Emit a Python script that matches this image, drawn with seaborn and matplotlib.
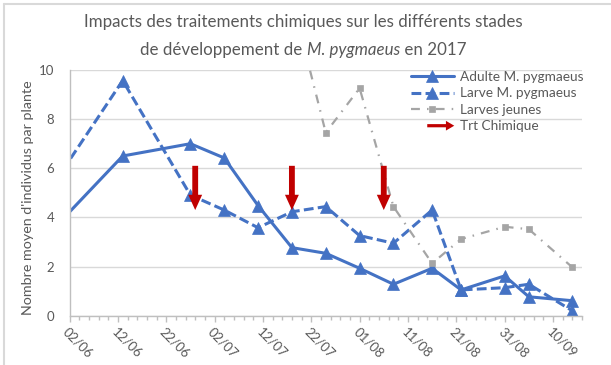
import matplotlib
matplotlib.use("Agg")
import matplotlib.pyplot as plt
import matplotlib.dates as mdates
from matplotlib.ticker import FixedLocator
from matplotlib.lines import Line2D
from matplotlib.patches import FancyArrow
from matplotlib.legend_handler import HandlerPatch
import pandas as pd
import seaborn as sns

# --- data -------------------------------------------------------------
dates = ['2017-05-30', '2017-06-13', '2017-06-27', '2017-07-04', '2017-07-11',
         '2017-07-18', '2017-07-25', '2017-08-01', '2017-08-08', '2017-08-16',
         '2017-08-22', '2017-08-31', '2017-09-05', '2017-09-14']
adulte = [3.6, 6.5, 7.0, 6.42, 4.48, 2.77, 2.54, 1.93, 1.28, 1.93, 1.05, 1.62, 0.77, 0.61]
larve = [5.45, 9.57, 4.91, 4.30, 3.58, 4.23, 4.44, 3.26, 2.95, 4.30, 1.05, 1.14, 1.28, 0.20]

jeunes_dates = ['2017-07-18', '2017-07-25', '2017-08-01', '2017-08-08', '2017-08-16',
                '2017-08-22', '2017-08-31', '2017-09-05', '2017-09-14']
jeunes = [12.9, 7.45, 9.26, 4.44, 2.13, 3.12, 3.62, 3.52, 1.97]

# chemical treatment dates (arrow from trt_top down to trt_tip)
trt_dates = ['2017-06-28', '2017-07-18', '2017-08-06']
trt_top = 6.1
trt_tip = 4.3

x_start, x_end = '2017-06-02', '2017-09-16'
major_ticks = pd.date_range('2017-06-02', '2017-09-10', freq='10D')
minor_ticks = pd.date_range(x_start, x_end, freq='2D')
y_ticks = [0, 2, 4, 6, 8, 10]

labels = ['Adulte M. pygmaeus', 'Larve M. pygmaeus', 'Larves jeunes', 'Trt Chimique']

BLUE = '#4472C4'
GREY = '#A5A5A5'
RED = '#C00000'
TXT = '#595959'

# --- figure -----------------------------------------------------------
sns.set_theme(style="white")
plt.rcParams['font.family'] = ['Lato', 'DejaVu Sans']

W, H = 611, 365
fig = plt.figure(figsize=(W / 100, H / 100), dpi=100)
ax = fig.add_axes([69.5 / W, 1 - 315.7 / H, (582 - 69.5) / W, (315.7 - 70) / H])

df = pd.DataFrame({'date': pd.to_datetime(dates), 'adulte': adulte, 'larve': larve})
dj = pd.DataFrame({'date': pd.to_datetime(jeunes_dates), 'jeunes': jeunes})

sns.lineplot(data=df, x='date', y='adulte', ax=ax, color=BLUE, lw=2.2,
             marker='^', ms=8.5, mec=BLUE, mew=0.5, label=labels[0])
sns.lineplot(data=df, x='date', y='larve', ax=ax, color=BLUE, lw=2.2,
             linestyle=(0, (3.2, 1.4)), marker='^', ms=8.5, mec=BLUE, mew=0.5,
             label=labels[1])
sns.lineplot(data=dj, x='date', y='jeunes', ax=ax, color=GREY, lw=1.6,
             linestyle=(0, (4.0, 3.2, 0.7, 3.2)), marker='s', ms=4.5, mec=GREY,
             mew=0.5, label=labels[2])

for d in trt_dates:
    xd = mdates.date2num(pd.Timestamp(d))
    ax.annotate('', xy=(xd, trt_tip), xytext=(xd, trt_top),
                arrowprops=dict(arrowstyle='simple,head_length=1.1,head_width=1.0,tail_width=0.42',
                                mutation_scale=10, color=RED, lw=0,
                                shrinkA=0, shrinkB=0))

# --- axes styling -----------------------------------------------------
ax.set_xlim(pd.Timestamp(x_start), pd.Timestamp(x_end))
ax.set_ylim(0, 10)
ax.set_yticks(y_ticks)
ax.xaxis.set_major_locator(FixedLocator(mdates.date2num(major_ticks)))
ax.xaxis.set_minor_locator(FixedLocator(mdates.date2num(minor_ticks)))
ax.xaxis.set_major_formatter(mdates.DateFormatter('%d/%m'))
ax.set_xlabel('')
ax.set_ylabel('')
ax.yaxis.grid(True, color='#D9D9D9', lw=1)
ax.set_axisbelow(True)
for s in ['top', 'right']:
    ax.spines[s].set_visible(False)
for s in ['left', 'bottom']:
    ax.spines[s].set_color('#BFBFBF')
    ax.spines[s].set_linewidth(1)

ax.tick_params(axis='x', which='major', bottom=True, direction='out', color='#BFBFBF',
               length=4, width=1, pad=3, labelsize=9.5, labelcolor=TXT)
ax.tick_params(axis='x', which='minor', bottom=True, direction='out', color='#BFBFBF',
               length=3, width=1)
ax.tick_params(axis='y', length=0, pad=11, labelsize=9.5, labelcolor=TXT)
for lbl in ax.get_xticklabels():
    lbl.set_rotation(-45)
    lbl.set_ha('left')
    lbl.set_va('top')
    lbl.set_rotation_mode('anchor')

fig.text(28 / W, 1 - 198 / H, "Nombre moyen d'individus par plante", rotation=90,
         ha='center', va='center', fontsize=10.3, color=TXT)


# --- legend -----------------------------------------------------------
class HandlerArrow(HandlerPatch):
    def create_artists(self, legend, orig_handle, xdescent, ydescent, width, height,
                       fontsize, trans):
        y = height / 2 - ydescent
        x0 = -xdescent + width * 0.38
        p = FancyArrow(x0, y, width - width * 0.38, 0, width=2.3, head_width=7,
                       head_length=6, length_includes_head=True, color=RED, lw=0)
        p.set_transform(trans)
        return [p]


arrow_proxy = FancyArrow(0, 0, 1, 0, color=RED)
handles = ax.get_lines()[:3] + [arrow_proxy]
ax.legend(handles=handles, labels=labels, loc='upper left',
          bbox_to_anchor=(410.7 / W, 1 - 71 / H), bbox_transform=fig.transFigure,
          frameon=False, fontsize=9.8, labelcolor=TXT, handlelength=3.2,
          handletextpad=0.4, labelspacing=0.33, borderpad=0, borderaxespad=0,
          handler_map={arrow_proxy: HandlerArrow()})

# --- title ------------------------------------------------------------
renderer = fig.canvas.get_renderer()


def centered_line(y_px, parts, size=12.2):
    texts = []
    for s, style in parts:
        t = fig.text(0, 1 - y_px / H, s, fontsize=size, color=TXT, style=style,
                     ha='left', va='center')
        texts.append(t)
    widths = [t.get_window_extent(renderer).width for t in texts]
    x = (W / 2 - 2) - sum(widths) / 2
    for t, w in zip(texts, widths):
        t.set_x(x / W)
        x += w


centered_line(22, [("Impacts des traitements chimiques sur les différents stades", 'normal')])
centered_line(50, [("de développement de ", 'normal'), ("M. pygmaeus", 'italic'),
                   (" en 2017", 'normal')])

# chart frame
fig.add_artist(Line2D([4 / W, 4 / W], [0, 1 - 3.5 / H], color='#D9D9D9', lw=1.5,
                      transform=fig.transFigure))
fig.add_artist(Line2D([4 / W, 1], [1 - 3.5 / H, 1 - 3.5 / H], color='#D9D9D9', lw=1.5,
                      transform=fig.transFigure))

fig.savefig('out.png', dpi=100)
